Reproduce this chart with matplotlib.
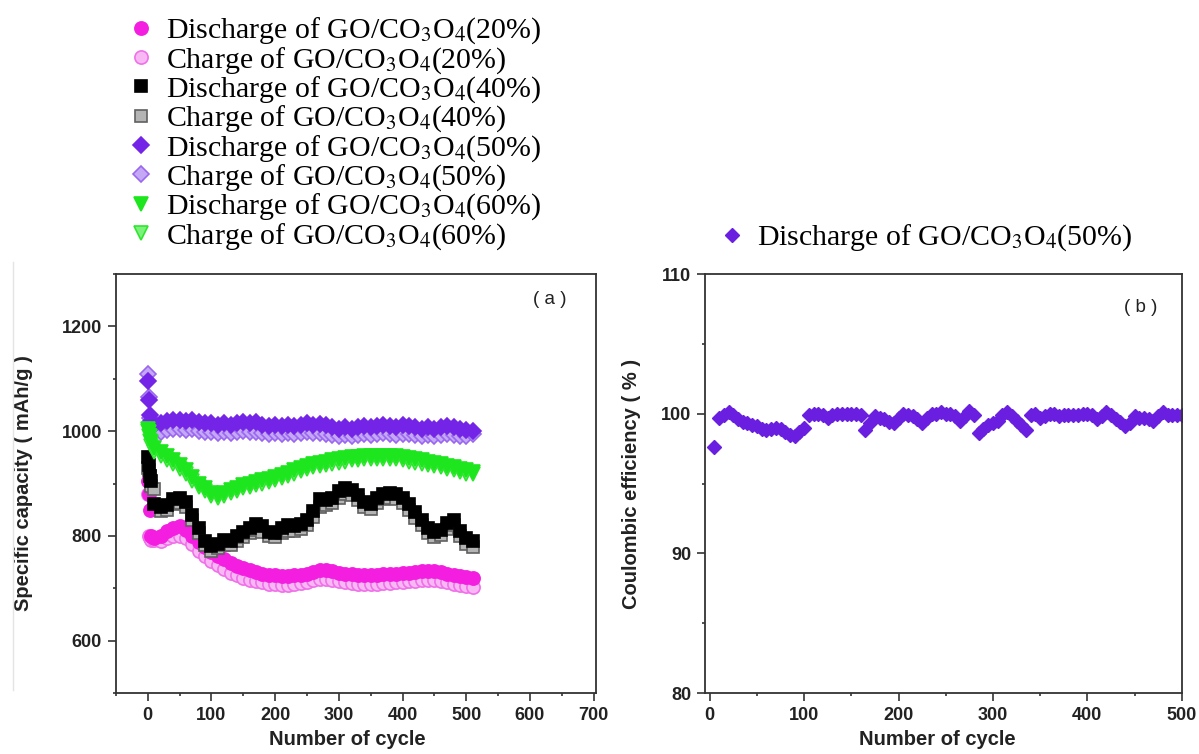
import matplotlib
matplotlib.use("Agg")
import matplotlib.pyplot as plt
from matplotlib.lines import Line2D
from matplotlib.ticker import MultipleLocator

cycles = [1, 2, 3, 5] + list(range(10, 511, 10))

dis_20 = [905, 880, 850, 800, 795,
          800, 810, 815, 818, 812, 800, 788, 778, 770,
          762, 755, 748, 742, 738, 734, 731, 728, 726, 725,
          724, 724, 725, 726, 728, 731, 734, 735, 733, 730,
          728, 727, 726, 726, 726, 726, 727, 727, 728, 729,
          730, 731, 732, 733, 733, 731, 728, 726, 724, 722,
          720]
chg_20 = [880, 800, 795, 792, 792,
          790, 795, 800, 800, 795, 785, 772, 762, 752,
          744, 736, 730, 725, 720, 716, 713, 711, 709, 708,
          707, 707, 708, 710, 712, 715, 717, 718, 716, 713,
          711, 710, 709, 709, 709, 709, 710, 710, 711, 712,
          713, 714, 715, 716, 715, 713, 711, 709, 707, 705,
          703]
dis_40 = [950, 935, 915, 905, 860,
          855, 858, 870, 872, 865, 840, 815, 790, 780,
          785, 792, 790, 800, 808, 815, 822, 818, 808, 805,
          815, 820, 818, 822, 830, 848, 870, 868, 872, 885,
          892, 888, 878, 865, 860, 872, 880, 882, 880, 872,
          860, 845, 830, 815, 808, 812, 825, 830, 810, 795,
          790]
chg_40 = [930, 925, 915, 895, 890,
          848, 850, 860, 862, 855, 830, 805, 782, 772,
          776, 782, 782, 790, 798, 805, 812, 808, 800, 797,
          805, 810, 810, 814, 820, 836, 856, 858, 862, 872,
          880, 878, 868, 856, 852, 862, 870, 872, 870, 862,
          850, 835, 820, 806, 798, 802, 814, 820, 800, 785,
          778]
dis_50 = [1095, 1060, 1030, 1020, 1012,
          1016, 1020, 1021, 1022, 1020, 1022, 1018, 1016, 1015,
          1012, 1015, 1012, 1015, 1018, 1015, 1017, 1012, 1010, 1012,
          1010, 1012, 1010, 1012, 1015, 1012, 1014, 1012, 1008, 1005,
          1008, 1005, 1008, 1010, 1008, 1010, 1012, 1010, 1008, 1012,
          1010, 1008, 1005, 1008, 1005, 1008, 1010, 1008, 1005, 1003,
          1000]
chg_50 = [1110, 1065, 1025, 1018, 1000,
          998, 1002, 1004, 1004, 1003, 1004, 1001, 999, 998,
          996, 998, 996, 998, 1000, 998, 999, 996, 994, 996,
          995, 996, 994, 996, 998, 996, 997, 995, 992, 990,
          992, 990, 992, 994, 992, 994, 996, 994, 992, 995,
          994, 992, 990, 992, 990, 992, 994, 992, 990, 990,
          994]
dis_60 = [1005, 998, 990, 980, 968,
          960, 952, 945, 935, 925, 912, 900, 892, 882,
          878, 882, 888, 892, 897, 900, 903, 906, 908, 912,
          916, 920, 925, 930, 933, 937, 940, 942, 944, 946,
          948, 950, 951, 952, 953, 953, 953, 952, 952, 950,
          948, 946, 944, 942, 940, 937, 934, 931, 928, 925,
          922]
chg_60 = [1000, 990, 982, 972, 960,
          953, 945, 938, 928, 918, 905, 893, 885, 876,
          872, 876, 882, 886, 891, 894, 897, 900, 902, 906,
          910, 914, 919, 924, 927, 931, 934, 936, 938, 940,
          942, 944, 945, 946, 947, 947, 947, 946, 946, 944,
          942, 940, 938, 936, 934, 931, 928, 925, 922, 919,
          918]

# Teil b: Coulomb-Effizienz alle 5 Zyklen
ce_cycles = list(range(5, 501, 5))
ce_50 = [97.6, 99.7, 99.9, 100.1, 99.9, 99.6, 99.4, 99.3, 99.2, 99.1,
         98.9, 98.85, 98.9, 98.95, 98.9, 98.7, 98.5, 98.4, 98.7, 99.0,
         99.9, 100.0, 100.0, 99.9, 99.7, 99.9, 100.0, 100.0, 100.0, 100.0,
         100.0, 99.9, 98.8, 99.3, 99.8, 99.7, 99.6, 99.4, 99.3, 99.7,
         100.0, 99.9, 99.8, 99.6, 99.3, 99.7, 100.0, 100.0, 100.1, 100.0,
         100.0, 99.8, 99.5, 99.8, 100.2, 99.9, 98.6, 98.9, 99.2, 99.3,
         99.5, 99.9, 100.1, 99.8, 99.5, 99.2, 98.8, 99.9, 100.0, 99.7,
         99.8, 100.0, 100.0, 99.8, 99.9, 99.9, 99.9, 99.9, 100.0, 100.0,
         99.9, 99.6, 99.8, 100.1, 99.9, 99.6, 99.4, 99.1, 99.3, 99.8,
         99.7, 99.7, 99.6, 99.5, 99.8, 100.1, 99.9, 99.9, 99.9, 99.9]

labels = ["Discharge of GO/CO$_3$O$_4$(20%)", "Charge of GO/CO$_3$O$_4$(20%)",
          "Discharge of GO/CO$_3$O$_4$(40%)", "Charge of GO/CO$_3$O$_4$(40%)",
          "Discharge of GO/CO$_3$O$_4$(50%)", "Charge of GO/CO$_3$O$_4$(50%)",
          "Discharge of GO/CO$_3$O$_4$(60%)", "Charge of GO/CO$_3$O$_4$(60%)"]

plt.rcParams["font.family"] = "Liberation Sans"
plt.rcParams["mathtext.fontset"] = "stix"

fig = plt.figure(figsize=(11.99, 7.54), dpi=100)
ax1 = fig.add_axes([0.0967, 0.0809, 0.400, 0.5557])
ax2 = fig.add_axes([0.588, 0.0809, 0.398, 0.5557])

ms = 9.5
# (Werte, Marker, Randfarbe, Füllfarbe, Größe, zorder) – Ladung unter Entladung
styles = [
    (dis_20, "o", "#f41ee0", "#f41ee0", ms, 4),
    (chg_20, "o", "#f070ea", "#f8b8f4", ms, 3),
    (dis_40, "s", "#000000", "#000000", ms - 0.5, 6),
    (chg_40, "s", "#606060", "#b4b4b4", ms - 0.5, 5),
    (dis_50, "D", "#7424e6", "#7424e6", ms - 1.5, 8),
    (chg_50, "D", "#9a66f0", "#c4a8f6", ms - 1.5, 7),
    (dis_60, "v", "#1ee61e", "#1ee61e", ms + 0.5, 10),
    (chg_60, "v", "#2ee62e", "#7cf27c", ms + 0.5, 9),
]
handles = []
for (vals, mk, ec, fc, size, z), lab in zip(styles, labels):
    h, = ax1.plot(cycles, vals, linestyle="none", marker=mk, ms=size,
                  mec=ec, mfc=fc, mew=1.2, label=lab, zorder=z)
    handles.append(h)

h_ce, = ax2.plot(ce_cycles, ce_50, linestyle="none", marker="D", ms=7.5,
                 mec="#6a1fe0", mfc="#6a1fe0", label="Discharge of GO/CO$_3$O$_4$(50%)")

tick_font = {"family": "Liberation Sans", "weight": "bold", "size": 13}
lab_font = {"family": "Liberation Sans", "weight": "bold", "size": 14.5}

for ax in (ax1, ax2):
    for sp in ax.spines.values():
        sp.set_color("#333333")
        sp.set_linewidth(1.3)
        sp.set_zorder(12)
    ax.tick_params(which="major", direction="out", length=6, width=1.2,
                   color="#333333", pad=4)
    ax.tick_params(which="minor", direction="out", length=2.5, width=1.2,
                   color="#333333")

ax1.set_xlim(-50, 703)
ax1.set_ylim(500, 1300)
ax1.xaxis.set_minor_locator(MultipleLocator(50))
ax1.yaxis.set_minor_locator(MultipleLocator(100))
ax1.set_xticks([0, 100, 200, 300, 400, 500, 600, 700])
ax1.set_yticks([600, 800, 1000, 1200])

ax2.set_xlim(-5, 500.5)
ax2.set_ylim(80, 110)
ax2.xaxis.set_major_locator(MultipleLocator(100))
ax2.xaxis.set_minor_locator(MultipleLocator(50))
ax2.yaxis.set_major_locator(MultipleLocator(10))
ax2.yaxis.set_minor_locator(MultipleLocator(5))

for ax in (ax1, ax2):
    for t in ax.get_xticklabels() + ax.get_yticklabels():
        t.set_fontproperties(tick_font)
        t.set_color("#222222")

ax1.set_xlabel("Number of cycle", fontdict=lab_font, color="#222222")
ax1.set_ylabel("Specific capacity ( mAh/g )", fontdict=lab_font, color="#222222")
ax2.set_xlabel("Number of cycle", fontdict=lab_font, color="#222222")
ax2.set_ylabel("Coulombic efficiency ( % )", fontdict=lab_font, color="#222222")
ax1.xaxis.set_label_coords(0.483, -0.088)
ax2.xaxis.set_label_coords(0.486, -0.088)
ax1.yaxis.set_label_coords(-0.172, 0.5)
ax2.yaxis.set_label_coords(-0.134, 0.5)

ax1.text(0.904, 0.938, "( a )", transform=ax1.transAxes, ha="center", va="center",
         fontsize=13.5, color="#222222")
ax2.text(0.912, 0.921, "( b )", transform=ax2.transAxes, ha="center", va="center",
         fontsize=13.5, color="#222222")

leg_font = {"family": "Liberation Serif", "size": 21.5}
fig.legend(handles=handles, loc="upper left", bbox_to_anchor=(0.107, 0.979),
           frameon=False, prop=leg_font, borderpad=0, labelspacing=-0.045,
           handlelength=0.85, handletextpad=0.42, borderaxespad=0)
fig.legend(handles=[h_ce], loc="center left", bbox_to_anchor=(0.6, 1 - 238 / 754),
           frameon=False, prop=leg_font, borderpad=0,
           handlelength=0.85, handletextpad=0.42, borderaxespad=0)

# schwache Linie am linken Bildrand
fig.add_artist(Line2D([13 / 1199, 13 / 1199], [1 - 262 / 754, 1 - 690 / 754],
                      color="#e4e4e4", lw=1))

fig.savefig("out.png", dpi=100)
